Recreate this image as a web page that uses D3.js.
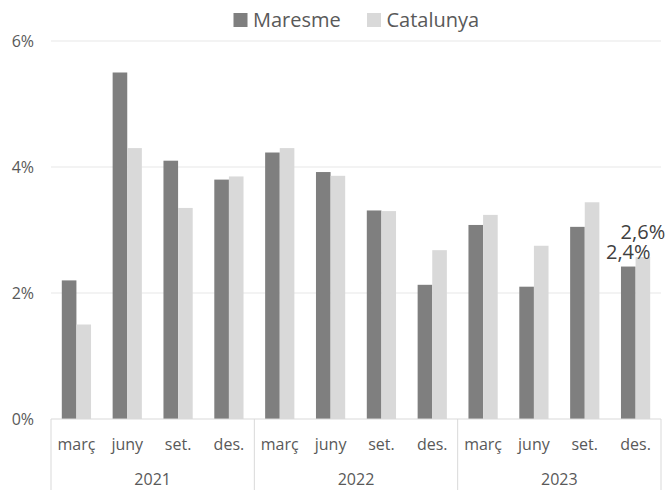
<!DOCTYPE html>
<html>
<head>
<meta charset="utf-8">
<script src="https://cdn.jsdelivr.net/npm/d3@7"></script>
<style>
	body { margin: 0; background: #fff; }
	svg { display: block; font-family: "Open Sans", sans-serif; }
</style>
</head>
<body>
<div id="chart"></div>
<script>
//////////////////////////////
// DATA
//////////////////////////////

const years = ["2021", "2022", "2023"]
const quarters = ["març", "juny", "set.", "des."]
const maresme = [2.2, 5.5, 4.1, 3.8, 4.23, 3.92, 3.31, 2.13, 3.08, 2.1, 3.05, 2.42]
const catalunya = [1.5, 4.3, 3.35, 3.85, 4.3, 3.86, 3.3, 2.68, 3.24, 2.75, 3.44, 2.57]
const yTicks = [0, 2, 4, 6]
const seriesNames = ["Maresme", "Catalunya"]
const colors = ["#7f7f7f", "#d9d9d9"]

//////////////////////////////
// CHART
//////////////////////////////

const drawChart = () => {
	let width = 671
	let height = 490
	let margin = { top: 41, right: 10, bottom: 71, left: 51 }

	let cats = []
	years.forEach((y) => quarters.forEach((q) => cats.push(y + "-" + q)))

	let rows = cats.map((c, i) => ({ key: c, values: [maresme[i], catalunya[i]] }))

	let x = d3.scaleBand().domain(cats).range([margin.left, width - margin.right]).paddingInner(0.425).paddingOuter(0.2125)
	let xs = d3.scaleBand().domain(seriesNames).range([0, x.bandwidth()])
	let y = d3.scaleLinear().domain([0, 6]).range([height - margin.bottom, margin.top])

	let svg = d3.select("#chart").append("svg").attr("width", width).attr("height", height)

	// gridlines
	svg.append("g").selectAll("line").data(yTicks.filter((t) => t > 0)).enter().append("line")
		.attr("x1", margin.left).attr("x2", width - margin.right)
		.attr("y1", (d) => y(d)).attr("y2", (d) => y(d))
		.style("stroke", "#efefef").style("stroke-width", 1.3)

	// y labels
	svg.append("g").selectAll("text").data(yTicks).enter().append("text")
		.attr("x", 34).attr("y", (d) => y(d)).attr("dy", "0.35em")
		.attr("text-anchor", "end").style("font-size", "16px").style("fill", "#595959")
		.text((d) => d + "%")

	// bars
	let g = svg.append("g").selectAll("g").data(rows).enter().append("g")
		.attr("transform", (d) => "translate(" + x(d.key) + ",0)")

	g.selectAll("rect").data((d) => d.values.map((v, i) => ({ name: seriesNames[i], v: v }))).enter().append("rect")
		.attr("x", (d) => xs(d.name)).attr("width", xs.bandwidth())
		.attr("y", (d) => y(d.v)).attr("height", (d) => y(0) - y(d.v))
		.style("fill", (d, i) => colors[i])

	// category axis
	let base = y(0)
	let step = x.step()
	svg.append("line").attr("x1", margin.left).attr("x2", width - margin.right)
		.attr("y1", base).attr("y2", base).style("stroke", "#d9d9d9").style("stroke-width", 1)

	let seps = d3.range(years.length + 1).map((i) => margin.left + i * quarters.length * step)
	svg.append("g").selectAll("line").data(seps).enter().append("line")
		.attr("x1", (d) => d).attr("x2", (d) => d).attr("y1", base).attr("y2", height)
		.style("stroke", "#d9d9d9").style("stroke-width", 1)

	svg.append("g").selectAll("text").data(cats).enter().append("text")
		.attr("x", (d) => x(d) + x.bandwidth() / 2).attr("y", 449.5)
		.attr("text-anchor", "middle").style("font-size", "16px").style("fill", "#595959")
		.text((d) => d.split("-")[1])

	svg.append("g").selectAll("text").data(years).enter().append("text")
		.attr("x", (d, i) => margin.left + (i + 0.5) * quarters.length * step).attr("y", 485)
		.attr("text-anchor", "middle").style("font-size", "16px").style("fill", "#595959")
		.text((d) => d)

	// data labels on last quarter
	let last = rows[rows.length - 1]
	let fmt = (v) => d3.format(".1f")(v).replace(".", ",") + "%"
	let lx = x(last.key)
	let yM = y(last.values[0]) - 8
	let yC = Math.min(y(last.values[1]) - 8, yM - 20)
	svg.append("text").attr("x", lx + xs("Maresme") + xs.bandwidth() / 2).attr("y", yM)
		.attr("text-anchor", "middle").style("font-size", "20px").style("fill", "#404040")
		.text(fmt(last.values[0]))
	svg.append("text").attr("x", lx + xs("Catalunya") + xs.bandwidth() / 2).attr("y", yC)
		.attr("text-anchor", "middle").style("font-size", "20px").style("fill", "#404040")
		.text(fmt(last.values[1]))

	// legend
	let legendX = [233.5, 367]
	let legend = svg.append("g").selectAll("g").data(seriesNames).enter().append("g")
		.attr("transform", (d, i) => "translate(" + legendX[i] + ",13)")
	legend.append("rect").attr("width", 14).attr("height", 14).style("fill", (d, i) => colors[i])
	legend.append("text").attr("x", 19.5).attr("y", 14).style("font-size", "20px").style("fill", "#595959")
		.text((d) => d)
}

//////////////////////////////
// Document Ready
//////////////////////////////

drawChart()
</script>
</body>
</html>
